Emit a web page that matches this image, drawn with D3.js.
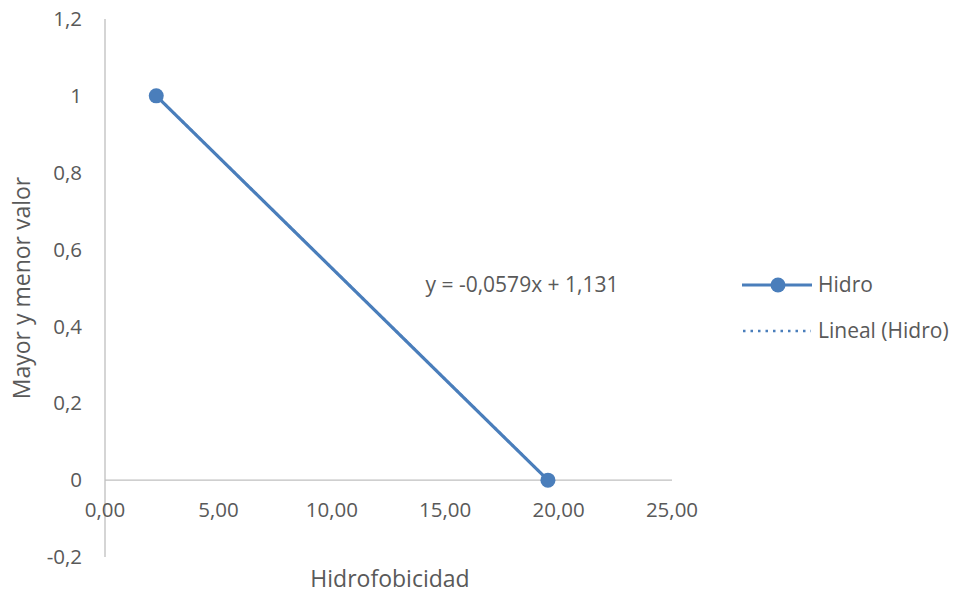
<!DOCTYPE html>
<html><head><meta charset="utf-8">
<script src="https://cdn.jsdelivr.net/npm/d3@7"></script>
<style>body{margin:0;background:#fff;} text{font-family:"Open Sans",sans-serif;fill:#595959;}</style>
</head><body><svg id="c" width="957" height="593"></svg>
<script>
const xValues = [2.26, 19.53];
const yValues = [1, 0];
const seriesName = "Hidro";
const trendName = "Lineal (Hidro)";
const trendSlope = -0.0579;
const trendIntercept = 1.131;
const equationLabel = "y = -0,0579x + 1,131";
const xTicks = [0, 5, 10, 15, 20, 25];
const yTicks = [-0.2, 0, 0.2, 0.4, 0.6, 0.8, 1, 1.2];
const xTitle = "Hidrofobicidad";
const yTitle = "Mayor y menor valor";

const svg = d3.select("#c");
const color = "#4a7ebb";
const x = d3.scaleLinear().domain([0, 25]).range([105, 672]);
const y = d3.scaleLinear().domain([-0.2, 1.2]).range([557, 19]);
const fmtX = d => d3.format(".2f")(d).replace(".", ",");
const fmtY = d => String(+d.toFixed(1)).replace(".", ",");

svg.append("line").attr("x1", x(0)).attr("x2", x(0)).attr("y1", y(1.2)).attr("y2", y(-0.2))
  .attr("stroke", "#bfbfbf").attr("stroke-width", 1.3);
svg.append("line").attr("x1", x(0)).attr("x2", x(25)).attr("y1", y(0)).attr("y2", y(0))
  .attr("stroke", "#bfbfbf").attr("stroke-width", 1.3);

svg.selectAll(".yt").data(yTicks).enter().append("text")
  .attr("x", 82).attr("y", d => y(d)).attr("dy", "0.35em").attr("text-anchor", "end")
  .style("font-size", "20.5px").text(fmtY);
svg.selectAll(".xt").data(xTicks).enter().append("text")
  .attr("x", d => x(d)).attr("y", y(0) + 30).attr("dy", "0.35em").attr("text-anchor", "middle")
  .style("font-size", "20.5px").text(fmtX);

svg.append("text").attr("x", 390).attr("y", 579).attr("dy", "0.35em").attr("text-anchor", "middle")
  .style("font-size", "23px").text(xTitle);
svg.append("text").attr("transform", "translate(22,288) rotate(-90)").attr("dy", "0.35em")
  .attr("text-anchor", "middle").style("font-size", "23px").text(yTitle);

const pts = xValues.map((v, i) => [v, yValues[i]]);
svg.append("path").datum(pts).attr("fill", "none").attr("stroke", color).attr("stroke-width", 3.2)
  .attr("d", d3.line().x(d => x(d[0])).y(d => y(d[1])));
const tx = d3.extent(xValues);
svg.append("path").datum(tx.map(v => [v, trendSlope * v + trendIntercept])).attr("fill", "none")
  .attr("stroke", color).attr("stroke-width", 2.5).attr("stroke-dasharray", "2.5,3.5")
  .attr("d", d3.line().x(d => x(d[0])).y(d => y(d[1])));
svg.selectAll(".pt").data(pts).enter().append("circle")
  .attr("cx", d => x(d[0])).attr("cy", d => y(d[1])).attr("r", 7.5).attr("fill", color);

svg.append("text").attr("x", 522).attr("y", 285).attr("dy", "0.35em").attr("text-anchor", "middle")
  .style("font-size", "21px").text(equationLabel);

const lg = svg.append("g");
lg.append("line").attr("x1", 742).attr("x2", 812).attr("y1", 285).attr("y2", 285).attr("stroke", color).attr("stroke-width", 3.2);
lg.append("circle").attr("cx", 778).attr("cy", 285).attr("r", 7.5).attr("fill", color);
lg.append("text").attr("x", 818).attr("y", 285).attr("dy", "0.35em").style("font-size", "21px").text(seriesName);
lg.append("line").attr("x1", 743).attr("x2", 811).attr("y1", 331).attr("y2", 331).attr("stroke", color).attr("stroke-width", 2.5).attr("stroke-dasharray", "2.5,5");
lg.append("text").attr("x", 818).attr("y", 331).attr("dy", "0.35em").style("font-size", "21px").text(trendName);
</script></body></html>
